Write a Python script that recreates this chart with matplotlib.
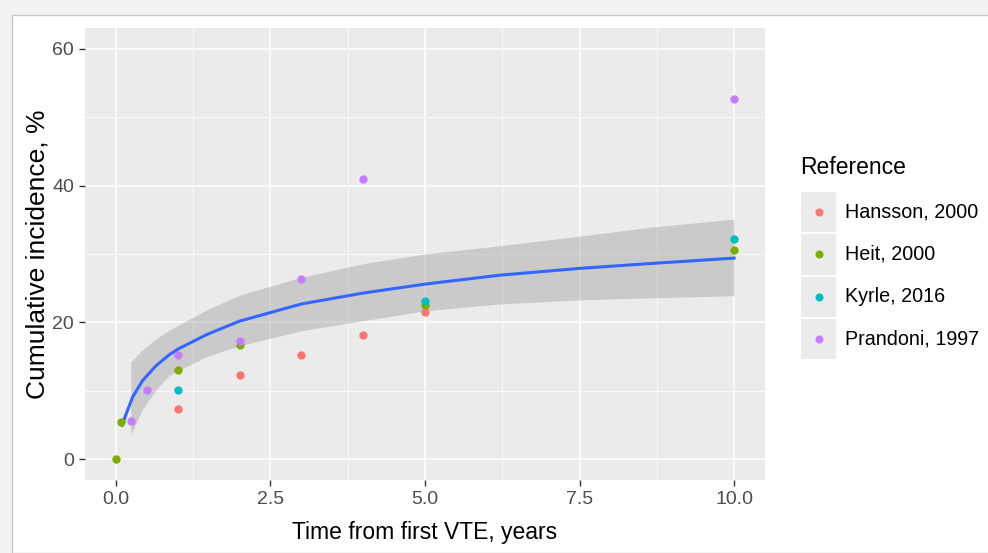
import numpy as np
import matplotlib.pyplot as plt
from matplotlib.patches import Rectangle

plt.rcParams['font.family'] = ['Liberation Sans', 'DejaVu Sans']

studies = ['Hansson, 2000', 'Heit, 2000', 'Kyrle, 2016', 'Prandoni, 1997']
colors = ['#F8766D', '#7CAE00', '#00BFC4', '#C77CFF']

hansson_x = [1, 2, 3, 4, 5]
hansson_y = [7.3, 12.3, 15.2, 18.2, 21.6]
heit_x = [0, 0.08, 1, 2, 5, 10]
heit_y = [0, 5.4, 13.1, 16.7, 22.5, 30.6]
kyrle_x = [1, 5, 10]
kyrle_y = [10.2, 23.2, 32.2]
prandoni_x = [0.25, 0.5, 1, 2, 3, 4, 10]
prandoni_y = [5.6, 10.2, 15.2, 17.3, 26.4, 41.0, 52.6]

# smooth line + ribbon
fit_x = [0.1, 0.16, 0.27, 0.43, 0.65, 0.865, 1.0, 1.46, 2.0, 3.0, 4.0, 5.0, 6.2, 7.5, 8.63, 10]
fit_y = [5.0, 6.5, 9.1, 11.5, 13.7, 15.3, 16.1, 18.2, 20.2, 22.7, 24.3, 25.6, 26.9, 27.9, 28.6, 29.4]
band_x = [0.24, 0.43, 0.65, 0.865, 1.46, 2.0, 3.0, 4.0, 5.0, 6.2, 7.5, 8.63, 10]
band_hi = [14.2, 16.0, 17.6, 18.9, 21.8, 24.0, 26.6, 28.6, 30.0, 31.2, 32.6, 33.9, 35.1]
band_lo = [3.7, 7.3, 10.2, 12.3, 15.0, 16.6, 18.8, 20.25, 21.7, 22.7, 23.3, 23.6, 23.9]

W, H = 988, 553
fig = plt.figure(figsize=(W / 100, H / 100), dpi=100)
fig.patch.set_facecolor('#f2f2f2')
fig.add_artist(Rectangle((12 / W, 0), 1, 1 - 15 / H, transform=fig.transFigure,
                         facecolor='white', edgecolor='#c8c8c8', lw=1, zorder=-1))

ax = fig.add_axes([85 / W, 1 - 480 / H, 680 / W, 452 / H])
ax.set_facecolor('#EBEBEB')
for s in ax.spines.values():
    s.set_visible(False)

ax.fill_between(band_x, band_lo, band_hi, color='#999999', alpha=0.4, lw=0, zorder=2)
ax.plot(fit_x, fit_y, color='#3366FF', lw=2.2, zorder=3)

series = [(hansson_x, hansson_y), (heit_x, heit_y), (kyrle_x, kyrle_y), (prandoni_x, prandoni_y)]
for (xs, ys), c in zip(series, colors):
    ax.scatter(xs, ys, s=36, color=c, lw=0, zorder=4)

ax.set_xlim(-0.5, 10.5)
ax.set_ylim(-3, 63)
ax.set_xticks([0, 2.5, 5, 7.5, 10])
ax.set_xticklabels(['0.0', '2.5', '5.0', '7.5', '10.0'])
ax.set_yticks([0, 20, 40, 60])
ax.set_xticks([1.25, 3.75, 6.25, 8.75], minor=True)
ax.set_yticks([10, 30, 50], minor=True)
ax.grid(True, which='major', color='white', lw=1.1)
ax.grid(True, which='minor', color='white', lw=0.55)
ax.set_axisbelow(True)
ax.tick_params(which='major', length=4, width=1, color='#333333',
               labelcolor='#4D4D4D', labelsize=14, pad=4)
ax.tick_params(which='minor', length=0)

ax.set_xlabel('Time from first VTE, years', fontsize=16.5, labelpad=9)
ax.set_ylabel('Cumulative incidence, %', fontsize=19, labelpad=2)

# legend, ggplot style
fig.text(800 / W, 1 - 167 / H, 'Reference', fontsize=16.5, va='center', ha='left')
key_top = 191
step = 42.3
for i, (name, c) in enumerate(zip(studies, colors)):
    top = key_top + i * step
    fig.add_artist(Rectangle((800 / W, 1 - (top + step) / H), 37 / W, step / H,
                             transform=fig.transFigure, facecolor='#EBEBEB',
                             edgecolor='white', lw=1.5))
    fig.add_artist(plt.Line2D([818.5 / W], [1 - (top + step / 2) / H], marker='o',
                              markersize=5.8, color=c, markeredgewidth=0,
                              transform=fig.transFigure))
    fig.text(845 / W, 1 - (top + step / 2) / H, name, fontsize=14.2,
             va='center', ha='left', color='black')

fig.savefig('out.png', dpi=100, facecolor=fig.get_facecolor())
